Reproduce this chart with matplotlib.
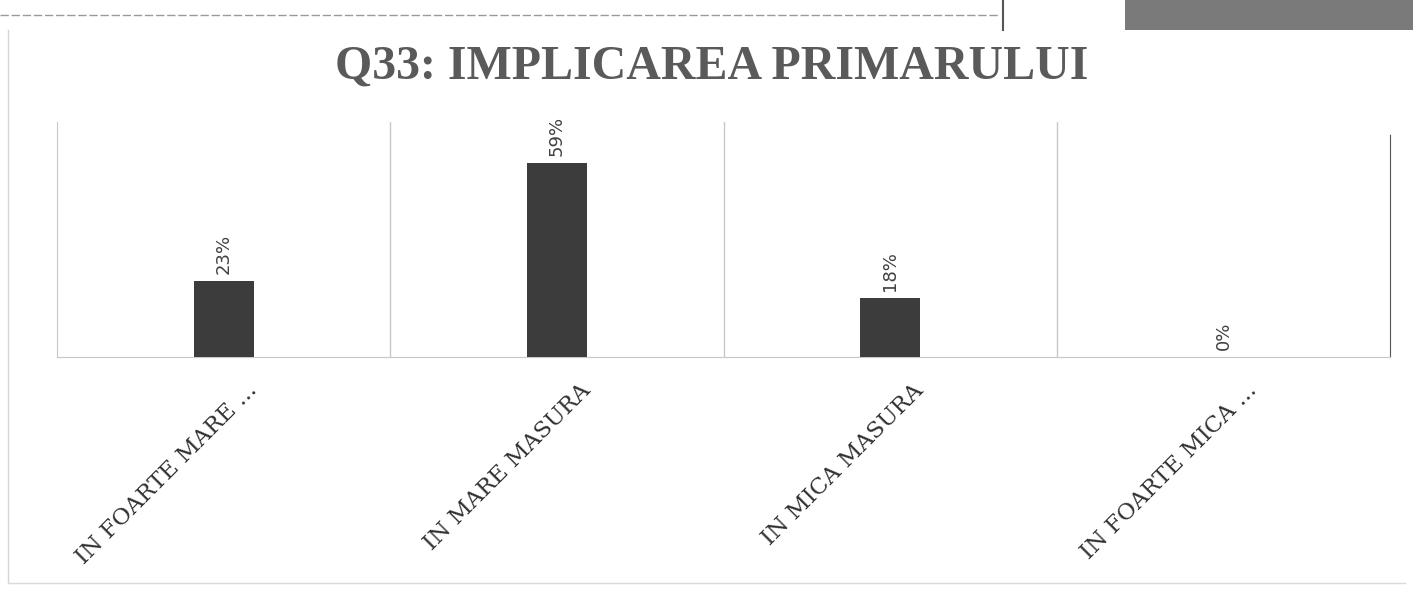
import matplotlib
matplotlib.use("Agg")
import matplotlib.pyplot as plt
from matplotlib.patches import Rectangle
from matplotlib.lines import Line2D
from matplotlib.transforms import ScaledTranslation

categories = ["IN FOARTE MARE ...", "IN MARE MASURA", "IN MICA MASURA", "IN FOARTE MICA ..."]
values = [23, 59, 18, 0]
value_labels = ["23%", "59%", "18%", "0%"]
title = "Q33: IMPLICAREA PRIMARULUI"

W, H, DPI = 1413, 595, 100
fig = plt.figure(figsize=(W / DPI, H / DPI), dpi=DPI)
fig.patch.set_facecolor("white")

# page edges around the chart
fig.add_artist(Line2D([8 / W, 8 / W], [1 - 30 / H, 1 - 583 / H], color="#d5d5d5", lw=1))
fig.add_artist(Line2D([8 / W, 1405 / W], [1 - 583 / H, 1 - 583 / H], color="#dadada", lw=1))
fig.add_artist(Line2D([0, 1000 / W], [1 - 15 / H, 1 - 15 / H], color="#9a9a9a", lw=1.0, ls=(0, (6, 2))))
fig.add_artist(Line2D([1003 / W, 1003 / W], [1, 1 - 30 / H], color="#555555", lw=1.5))
fig.add_artist(Rectangle((1125 / W, 1 - 30 / H), (W - 1125) / W, 30 / H, color="#7a7a7a", lw=0))

ax = fig.add_axes([57 / W, 1 - 357 / H, (1390 - 57) / W, (357 - 122) / H])
x = list(range(len(categories)))
ax.bar(x, values, width=0.18, color="#3c3c3c", zorder=3)
ax.set_xlim(-0.5, len(categories) - 0.5)
ax.set_ylim(0, 71.5)

for b in [0.5, 1.5, 2.5]:
    ax.axvline(b, color="#c8c8c8", lw=1, zorder=1)
ax.spines["top"].set_visible(False)
ax.spines["left"].set_color("#c8c8c8")
ax.spines["bottom"].set_color("#c8c8c8")
ax.spines["right"].set_color("#555555")
ax.spines["right"].set_linestyle((0, (2, 1)))
ax.spines["right"].set_bounds(0, 68)
ax.set_yticks([])

for xi, v, lab in zip(x, values, value_labels):
    ax.annotate(lab, (xi, v), xytext=(0, 5), textcoords="offset points",
                rotation=90, ha="center", va="bottom", fontsize=13,
                family="DejaVu Sans", color="#404040")

ax.set_xticks(x)
ax.set_xticklabels(categories, rotation=45, ha="right", va="center",
                   rotation_mode="anchor", family="DejaVu Serif",
                   fontsize=16.5, color="#303030")
ax.tick_params(axis="x", length=0, pad=0)
offset = ScaledTranslation(0.30, -0.30, fig.dpi_scale_trans)
for lbl in ax.get_xticklabels():
    lbl.set_transform(lbl.get_transform() + offset)

fig.text(712 / W, 1 - 79 / H, title, ha="center", va="baseline",
         family="Liberation Serif", fontsize=34.5, fontweight="bold", color="#5a5a5a")

fig.savefig("out.png", dpi=DPI, facecolor="white")
